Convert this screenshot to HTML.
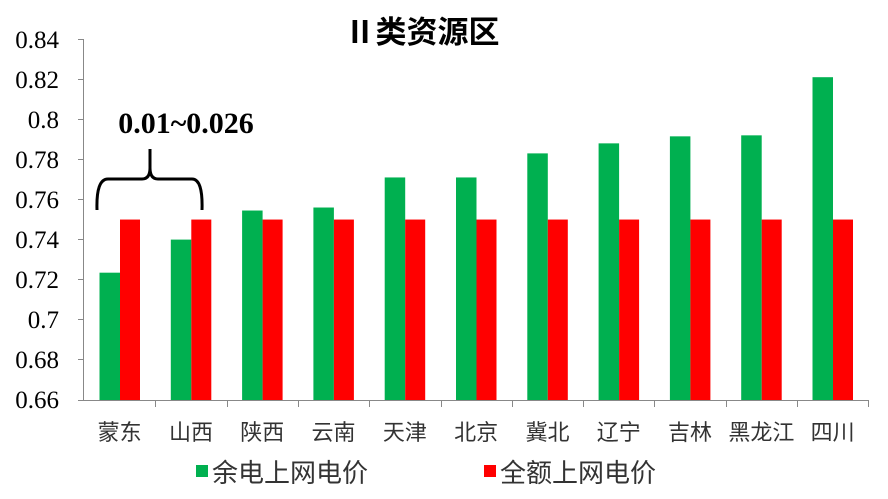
<!DOCTYPE html>
<html><head><meta charset="utf-8"><style>body{margin:0;background:#fff}svg{display:block}</style></head><body>
<svg width="888" height="499" xmlns="http://www.w3.org/2000/svg">
<rect width="888" height="499" fill="#fff"/>
<text x="422" y="43" text-anchor="middle" font-family="Liberation Serif, Noto Sans CJK SC, serif" font-size="31" font-weight="bold">Ⅱ类资源区</text>
<g font-family="Liberation Serif, serif" font-size="25" text-anchor="end" fill="#000">
<text x="59" y="48">0.84</text><text x="59" y="88">0.82</text><text x="59" y="128">0.8</text><text x="59" y="168">0.78</text><text x="59" y="208">0.76</text><text x="59" y="248">0.74</text><text x="59" y="288">0.72</text><text x="59" y="328">0.7</text><text x="59" y="368">0.68</text><text x="59" y="408">0.66</text>
</g>
<g stroke="#888" stroke-width="1">
<line x1="83.5" y1="39" x2="83.5" y2="400"/>
<line x1="78" y1="39.5" x2="84" y2="39.5"/><line x1="78" y1="79.5" x2="84" y2="79.5"/><line x1="78" y1="119.5" x2="84" y2="119.5"/><line x1="78" y1="159.5" x2="84" y2="159.5"/><line x1="78" y1="199.5" x2="84" y2="199.5"/><line x1="78" y1="239.5" x2="84" y2="239.5"/><line x1="78" y1="279.5" x2="84" y2="279.5"/><line x1="78" y1="319.5" x2="84" y2="319.5"/><line x1="78" y1="359.5" x2="84" y2="359.5"/>
<line x1="78" y1="400.5" x2="868" y2="400.5"/>
</g>
<g id="bars"></g>
<g id="ticks" stroke="#888"></g>
<g font-family="Liberation Sans, Noto Sans CJK SC, sans-serif" font-size="22" fill="#333" text-anchor="middle" id="labels"></g>
<path d="M97 210 Q96 179 108 179 L142 179 Q150 179 150 168 L150 149 M150 168 Q150 179 158 179 L192 179 Q203 179 202 210" fill="none" stroke="#000" stroke-width="3"/>
<text x="186" y="133" text-anchor="middle" font-family="Liberation Serif, serif" font-size="30" font-weight="bold">0.01~0.026</text>
<rect x="196" y="465" width="12" height="12" fill="#00b050"/>
<text x="212" y="482" font-family="Liberation Sans, Noto Sans CJK SC, sans-serif" font-size="26" fill="#333">余电上网电价</text>
<rect x="484" y="465" width="12" height="12" fill="#ff0000"/>
<text x="500" y="482" font-family="Liberation Sans, Noto Sans CJK SC, sans-serif" font-size="26" fill="#333">全额上网电价</text>
<script>
var g=[0.7235,0.740,0.7545,0.756,0.771,0.771,0.783,0.788,0.7915,0.792,0.821];
var n=["蒙东","山西","陕西","云南","天津","北京","冀北","辽宁","吉林","黑龙江","四川"];
var ns="http://www.w3.org/2000/svg",w=71.3,b=document.getElementById("bars"),t=document.getElementById("ticks"),l=document.getElementById("labels");
function y(v){return 400-(v-0.66)*2005;}
for(var i=0;i<11;i++){var x0=84+i*w;
var r=document.createElementNS(ns,"rect");r.setAttribute("x",x0+15.5);r.setAttribute("y",y(g[i]));r.setAttribute("width",20.5);r.setAttribute("height",400-y(g[i]));r.setAttribute("fill","#00b050");b.appendChild(r);
r=document.createElementNS(ns,"rect");r.setAttribute("x",x0+36);r.setAttribute("y",y(0.75));r.setAttribute("width",20);r.setAttribute("height",400-y(0.75));r.setAttribute("fill","#ff0000");b.appendChild(r);
var k=document.createElementNS(ns,"line");var tx=Math.round(x0+w)+0.5;k.setAttribute("x1",tx);k.setAttribute("x2",tx);k.setAttribute("y1",400);k.setAttribute("y2",407);t.appendChild(k);
var s=document.createElementNS(ns,"text");s.setAttribute("x",x0+w/2);s.setAttribute("y",440);s.textContent=n[i];l.appendChild(s);}
</script>
</svg>
</body></html>
